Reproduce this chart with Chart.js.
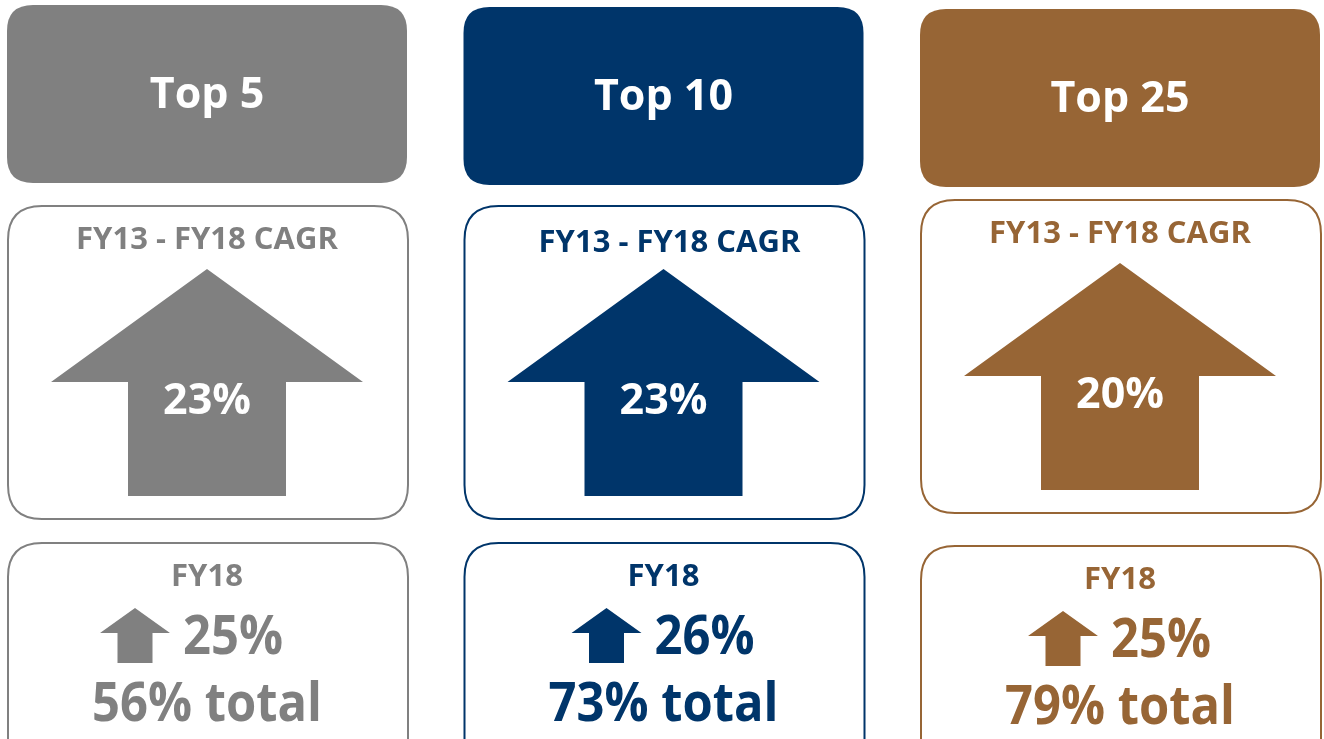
<!DOCTYPE html>
<html>
<head>
<meta charset="utf-8">
<script src="https://cdn.jsdelivr.net/npm/chart.js@4.4.0/dist/chart.umd.min.js"></script>
<style>
  html, body { margin: 0; padding: 0; background: #fff; }
  canvas { display: block; }
</style>
</head>
<body>
<canvas id="board" width="1324" height="739"></canvas>
<script>
// data
const groups = ["Top 5", "Top 10", "Top 25"];
const cagr = [23, 23, 20];          // FY13 - FY18 CAGR, %
const fy18Growth = [25, 26, 25];    // FY18 growth, %
const fy18Total = [56, 73, 79];     // FY18 share of total, %
const colors = ["#808080", "#00356a", "#976535"];

const FONT = "'Open Sans', 'Noto Sans', sans-serif";

function roundRect(ctx, x, y, w, h, r) {
  ctx.beginPath();
  ctx.moveTo(x + r, y);
  ctx.lineTo(x + w - r, y);
  ctx.quadraticCurveTo(x + w, y, x + w, y + r);
  ctx.lineTo(x + w, y + h - r);
  ctx.quadraticCurveTo(x + w, y + h, x + w - r, y + h);
  ctx.lineTo(x + r, y + h);
  ctx.quadraticCurveTo(x, y + h, x, y + h - r);
  ctx.lineTo(x, y + r);
  ctx.quadraticCurveTo(x, y, x + r, y);
  ctx.closePath();
}

function upArrow(ctx, cx, tip, wing, bottom, headHalf, shaftHalf) {
  ctx.beginPath();
  ctx.moveTo(cx, tip);
  ctx.lineTo(cx + headHalf, wing);
  ctx.lineTo(cx + shaftHalf, wing);
  ctx.lineTo(cx + shaftHalf, bottom);
  ctx.lineTo(cx - shaftHalf, bottom);
  ctx.lineTo(cx - shaftHalf, wing);
  ctx.lineTo(cx - headHalf, wing);
  ctx.closePath();
  ctx.fill();
}

function text(ctx, str, x, y, size, color, maxW, align) {
  ctx.font = "bold " + size + "px " + FONT;
  ctx.fillStyle = color;
  ctx.textAlign = align || "center";
  ctx.textBaseline = "alphabetic";
  ctx.fillText(str, x, y, maxW);
}

// small shifts of each panel, per column
const headTop = [5, 7, 9];
const midShift = [0, 0, -6];
const titleShift = [0, 3, 0];
const lowShift = [0, 0, 3];
const growthShift = [-15, 0, 0];

const panels = {
  id: "panels",
  afterDatasetsDraw(chart) {
    const ctx = chart.ctx;
    const meta = chart.getDatasetMeta(0);
    ctx.save();
    meta.data.forEach((el, i) => {
      const cx = el.x;
      const c = colors[i];
      const left = cx - 200;

      // header
      ctx.fillStyle = c;
      roundRect(ctx, left, headTop[i], 400, 178, 26);
      ctx.fill();
      text(ctx, groups[i], cx, headTop[i] + 103, 43, "#fff");

      // CAGR panel
      const m = midShift[i];
      ctx.strokeStyle = c;
      ctx.lineWidth = 2;
      roundRect(ctx, left + 1, 206 + m, 400, 313, 34);
      ctx.stroke();
      text(ctx, "FY13 - FY18 CAGR", cx + titleShift[i] * 2, 249 + m + titleShift[i], 31, c, 278);
      ctx.fillStyle = c;
      upArrow(ctx, cx, 269 + m, 382 + m, 496 + m, 156, 79);
      text(ctx, cagr[i] + "%", cx, 414 + m, 43, "#fff", 88);

      // FY18 panel
      const b = lowShift[i];
      roundRect(ctx, left + 1, 543 + b, 400, 230, 34);
      ctx.strokeStyle = c;
      ctx.stroke();
      text(ctx, "FY18", cx, 586 + b, 31, c, 74);
      const gx = cx - 92 + growthShift[i];
      ctx.fillStyle = c;
      upArrow(ctx, gx + 35, 608 + b, 633 + b, 663 + b, 35, 17.5);
      text(ctx, fy18Growth[i] + "%", gx + 83, 654 + b, 53, c, 100, "left");
      text(ctx, fy18Total[i] + "% total", cx, 721 + b, 53, c, 230);
    });
    ctx.restore();
  }
};

new Chart(document.getElementById("board"), {
  type: "bar",
  data: {
    labels: groups,
    datasets: [{
      label: "FY13 - FY18 CAGR",
      data: cagr,
      backgroundColor: "rgba(0,0,0,0)",
      borderWidth: 0
    }]
  },
  options: {
    responsive: false,
    animation: false,
    layout: { padding: { left: 207, right: 204, top: 0, bottom: 0 } },
    plugins: { legend: { display: false }, tooltip: { enabled: false } },
    scales: {
      x: { display: false, offset: false },
      y: { display: false, min: 0, max: 100 }
    }
  },
  plugins: [panels]
});
</script>
</body>
</html>
